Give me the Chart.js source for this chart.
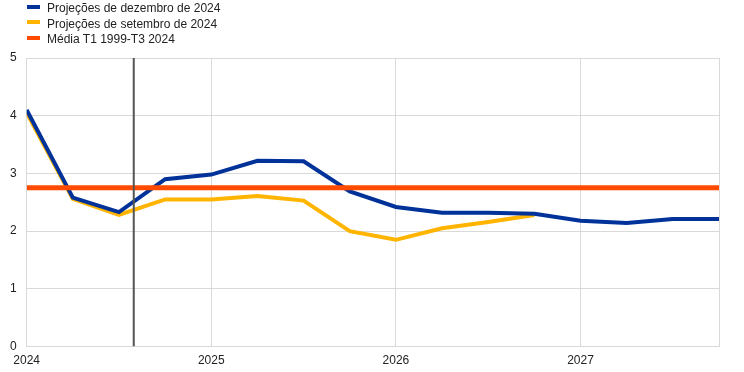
<!DOCTYPE html>
<html>
<head>
<meta charset="utf-8">
<script src="https://cdn.jsdelivr.net/npm/chart.js@4/dist/chart.umd.min.js"></script>
<style>
  body { margin: 0; background: #fff; }
  #wrap { position: relative; width: 744px; height: 372px; }
  #legend { position: absolute; left: 27px; top: 1px; font: 12px "Liberation Sans", Arial, sans-serif; color: #222; }
  #legend div { height: 15.5px; line-height: 15.5px; white-space: nowrap; }
  #legend span { display: inline-block; width: 13px; height: 4px; margin-right: 7px; vertical-align: middle; position: relative; top: -2px; }
</style>
</head>
<body>
<div id="wrap">
  <canvas id="chart" width="744" height="372"></canvas>
  <div id="legend"></div>
</div>
<script>
// quarters from 2024 Q1 to 2027 Q4
const quarters = [2024, 2024.25, 2024.5, 2024.75, 2025, 2025.25, 2025.5, 2025.75,
  2026, 2026.25, 2026.5, 2026.75, 2027, 2027.25, 2027.5, 2027.75];

const projDez = [4.1, 2.58, 2.33, 2.9, 2.98, 3.22, 3.21, 2.69, 2.42, 2.32, 2.32, 2.3, 2.18, 2.14, 2.21, 2.21];
const projSet = [4.05, 2.56, 2.28, 2.55, 2.55, 2.61, 2.53, 2.0, 1.85, 2.05, 2.16, 2.28, null, null, null, null];
const mediaValue = 2.75;
const cutoff = 2024.58;

const labels = ["Projeções de dezembro de 2024", "Projeções de setembro de 2024", "Média T1 1999-T3 2024"];
const colors = ["#003299", "#FFB400", "#FF4B00"];

const legend = document.getElementById("legend");
labels.forEach((txt, i) => {
  const row = document.createElement("div");
  row.innerHTML = `<span style="background:${colors[i]}"></span>${txt}`;
  legend.appendChild(row);
});

const toPoints = (arr) => quarters.map((q, i) => ({ x: q, y: arr[i] }));

const ctx = document.getElementById("chart").getContext("2d");
new Chart(ctx, {
  type: "line",
  data: {
    datasets: [
      {
        label: labels[0],
        data: toPoints(projDez),
        borderColor: colors[0],
        borderWidth: 4,
        order: 2,
      },
      {
        label: labels[1],
        data: toPoints(projSet),
        borderColor: colors[1],
        borderWidth: 4,
        order: 3,
      },
      {
        label: labels[2],
        data: [{ x: quarters[0], y: mediaValue }, { x: quarters[quarters.length - 1], y: mediaValue }],
        borderColor: colors[2],
        borderWidth: 5,
        order: 1,
      },
      {
        label: "cutoff",
        data: [{ x: cutoff, y: 0 }, { x: cutoff, y: 5 }],
        borderColor: "#555555",
        borderWidth: 2,
        order: 0,
      },
    ],
  },
  options: {
    responsive: false,
    animation: false,
    spanGaps: false,
    layout: { padding: { top: 58, right: 25, left: 0, bottom: -3 } },
    elements: { point: { radius: 0 }, line: { tension: 0, borderCapStyle: "butt" } },
    plugins: { legend: { display: false }, tooltip: { enabled: false } },
    scales: {
      x: {
        type: "linear",
        min: 2024,
        max: 2027.75,
        ticks: {
          stepSize: 1,
          color: "#222",
          font: { family: "Liberation Sans", size: 12 },
          maxRotation: 0,
          padding: 7,
          callback: (v) => (Number.isInteger(v) ? String(v) : ""),
        },
        grid: { color: "#d9d9d9", lineWidth: 1, drawTicks: false },
        border: { color: "#d9d9d9" },
      },
      y: {
        min: 0,
        max: 5,
        ticks: {
          stepSize: 1,
          color: "#222",
          font: { family: "Liberation Sans", size: 12 },
          padding: 10,
        },
        grid: { color: "#d9d9d9", lineWidth: 1, drawTicks: false },
        border: { color: "#d9d9d9" },
      },
    },
  },
});
</script>
</body>
</html>
